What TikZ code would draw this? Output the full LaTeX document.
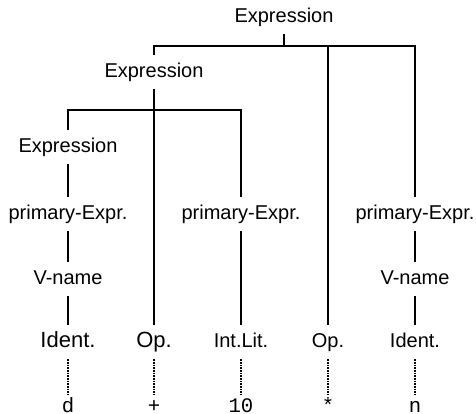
\documentclass[tikz,border=0pt]{standalone}
\usepackage{fontspec}
\setmainfont{Liberation Sans}
\setmonofont{Liberation Mono}

\begin{document}
\begin{tikzpicture}[
      x=0.75pt,
      y=-0.75pt
    ]

    \tikzstyle{cat} = [inner xsep=2pt, inner ysep=6pt, text height=10.8pt, text depth=3pt, font=\fontsize{15}{18}\selectfont]
    \tikzstyle{bigcat} = [cat, font=\fontsize{16.5}{19}\selectfont]
    \tikzstyle{leaf} = [anchor=base, inner xsep=2pt, inner ysep=0pt, text height=13pt, text depth=0pt, font=\ttfamily\fontsize{15.5}{18}\selectfont]

    \tikzstyle{branch} = [line width=1pt]
    \tikzstyle{stem} = [line width=1.5pt]
    \tikzstyle{spell} = [line width=1.5pt, dash pattern=on 1.2pt off 0.8pt]

    \useasboundingbox (0,0) rectangle (476,414);

    % phrase nodes
    \node [cat] (exprTop) at (284,17) {Expression};
    \node [cat] (exprMid) at (154,72) {Expression};
    \node [cat] (exprLow) at (68,147) {Expression};

    \node [cat] (primA) at (68,214) {primary-Expr.};
    \node [cat] (primB) at (241,214) {primary-Expr.};
    \node [cat] (primC) at (415,214) {primary-Expr.};

    \node [cat] (vnameA) at (68,279) {V-name};
    \node [cat] (vnameC) at (415,279) {V-name};

    % terminal classes
    \node [bigcat] (identA) at (68,342) {Ident.};
    \node [bigcat] (opA) at (154,342) {Op.};
    \node [cat] (intlit) at (241,342) {Int.Lit.};
    \node [cat] (opB) at (328,342) {Op.};
    \node [cat] (identC) at (415,342) {Ident.};

    % spellings
    \node [leaf] (chD) at (68,412) {d};
    \node [leaf] (chPlus) at (154,412) {+};
    \node [leaf] (chTen) at (241,412) {10};
    \node [leaf] (chStar) at (328,412) {*};
    \node [leaf] (chN) at (415,412) {n};

    \coordinate (barTop) at (284,46);
    \coordinate (barMid) at (154,110);

    \draw [stem] (exprTop.south) -- (barTop);
    \draw [branch] (exprMid.north) |- (barTop) -| (primC.north);
    \draw [branch] (barTop -| opB) -- (opB.north);

    \draw [branch] (exprMid.south) -- (opA.north);
    \draw [branch] (exprLow.north) |- (barMid) -| (primB.north);
    \draw [stem] (exprLow.north) -- ++(0,-14);

    \draw [stem] (exprLow.south) -- (primA.north);
    \draw [stem] (primA.south) -- (vnameA.north);
    \draw [stem] (vnameA.south) -- (identA.north);
    \draw [stem] (primB.south) -- (intlit.north);
    \draw [stem] (primC.south) -- (vnameC.north);
    \draw [stem] (vnameC.south) -- (identC.north);

    \draw [spell] (identA.south) -- (chD.north);
    \draw [spell] (opA.south) -- (chPlus.north);
    \draw [spell] (intlit.south) -- (chTen.north);
    \draw [spell] (opB.south) -- (chStar.north);
    \draw [spell] (identC.south) -- (chN.north);

\end{tikzpicture}
\end{document}
